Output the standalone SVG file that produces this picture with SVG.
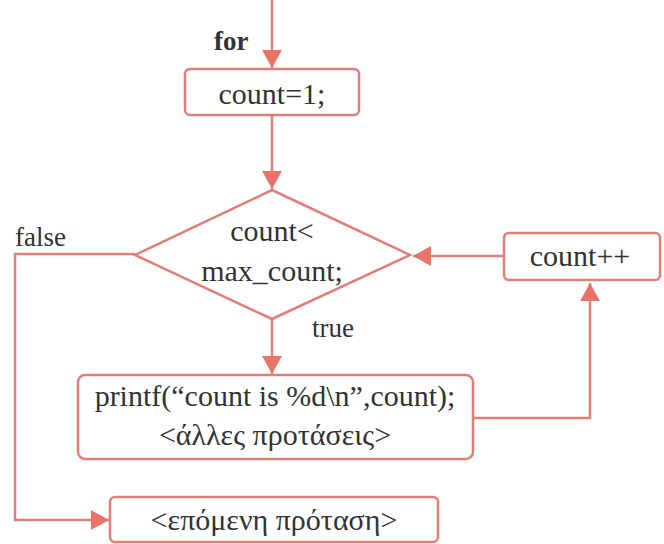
<svg xmlns="http://www.w3.org/2000/svg" width="664" height="544" viewBox="0 0 664 544">
<defs>
<style>
.box{fill:#fff;stroke:#e07f7a;stroke-width:2.5}
.ln{fill:none;stroke:#e07f7a;stroke-width:2.5}
</style>
<marker id="ah" markerWidth="18" markerHeight="20" refX="18" refY="10" orient="auto" markerUnits="userSpaceOnUse">
<path d="M0,0 L18,10 L0,20 Z" fill="#e8736b"/>
</marker>
</defs>
<rect width="664" height="544" fill="#fff"/>
<g id="connectors">
<line class="ln" x1="272" y1="0" x2="272" y2="68" marker-end="url(#ah)"/>
<line class="ln" x1="272" y1="115" x2="272" y2="189" marker-end="url(#ah)"/>
<line class="ln" x1="272" y1="319" x2="272" y2="374" marker-end="url(#ah)"/>
<line class="ln" x1="504" y1="256" x2="413" y2="256" marker-end="url(#ah)"/>
<polyline class="ln" points="473,418 590,418 590,283" marker-end="url(#ah)"/>
<polyline class="ln" points="135,254 15,254 15,520 109,520" marker-end="url(#ah)"/>
<text x="214" y="50" font-family="Liberation Serif" font-size="27" fill="#333" font-weight="bold">for</text>
<text x="15" y="246" font-family="Liberation Serif" font-size="27" fill="#333">false</text>
<text x="312" y="337" font-family="Liberation Serif" font-size="27" fill="#333">true</text>
</g>
<g id="init">
<rect class="box" x="185" y="69" width="174" height="46" rx="5"/>
<text x="272" y="104" font-family="Liberation Serif" font-size="30" fill="#333" text-anchor="middle">count=1;</text>
</g>
<g id="cond">
<polygon class="box" points="272,190 410,255 272,319 135,255"/>
<text x="272" y="241" font-family="Liberation Serif" font-size="30" fill="#333" text-anchor="middle">count&lt;</text>
<text x="272" y="281" font-family="Liberation Serif" font-size="30" fill="#333" text-anchor="middle">max_count;</text>
</g>
<g id="body">
<rect class="box" x="78" y="375" width="395" height="84" rx="7"/>
<text x="275" y="406" font-family="Liberation Serif" font-size="30" fill="#333" text-anchor="middle">printf(“count is %d\n”,count);</text>
<text x="275" y="445" font-family="Liberation Serif" font-size="30" fill="#333" text-anchor="middle">&lt;άλλες προτάσεις&gt;</text>
</g>
<g id="incr">
<rect class="box" x="504" y="233" width="156" height="47" rx="5"/>
<text x="580" y="266" font-family="Liberation Serif" font-size="30" fill="#333" text-anchor="middle">count++</text>
</g>
<g id="next">
<rect class="box" x="110" y="497" width="328" height="45" rx="5"/>
<text x="274" y="530" font-family="Liberation Serif" font-size="30" fill="#333" text-anchor="middle">&lt;επόμενη πρόταση&gt;</text>
</g>
</svg>
